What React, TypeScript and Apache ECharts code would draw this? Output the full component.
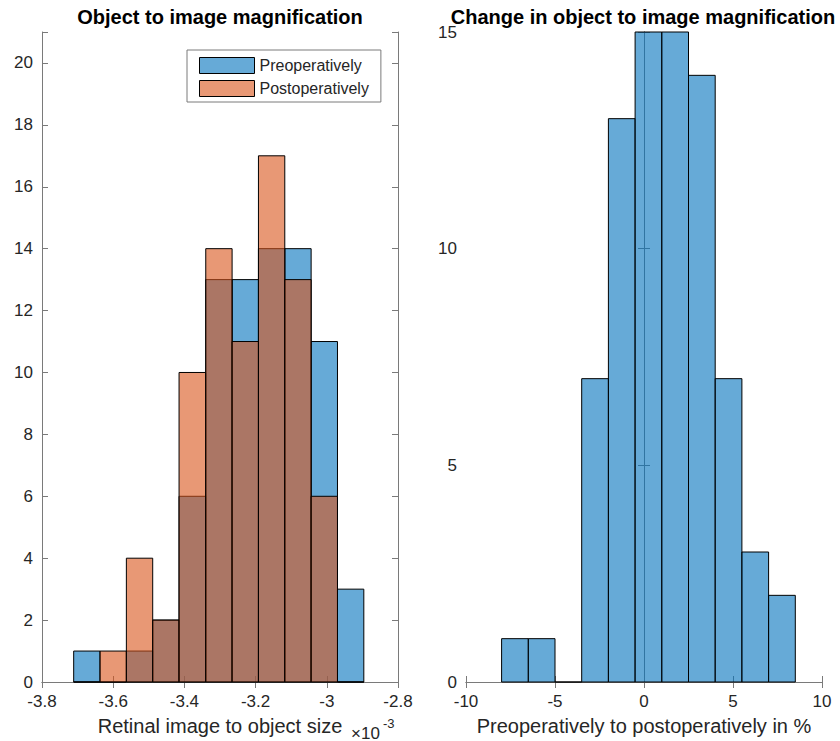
import React, { useEffect, useRef } from "react";
import * as echarts from "echarts";

// Left panel: bin edges (in units of 1e-3) and counts
const leftEdges = [-3.711, -3.637, -3.563, -3.489, -3.415, -3.34, -3.266, -3.192, -3.118, -3.044, -2.97, -2.896];
const preCounts = [1, 0, 1, 2, 6, 13, 13, 14, 14, 11, 3];
const postCounts = [0, 1, 4, 2, 10, 14, 11, 17, 13, 6, 0];

// Right panel: bin edges (%) and counts
const rightEdges = [-8, -6.5, -5, -3.5, -2, -0.5, 1, 2.5, 4, 5.5, 7, 8.5];
const changeCounts = [1, 1, 0, 7, 13, 15, 15, 14, 7, 3, 2];

const leftXTicks = [-3.8, -3.6, -3.4, -3.2, -3.0, -2.8];
const rightXTicks = [-10, -5, 0, 5, 10];

const FONT = "'Liberation Sans', Arial, Helvetica, sans-serif";
const TXT = "#262626";
const AX = "#7a7a7a";
const BLUE = "rgba(0,114,189,0.6)";
const ORANGE = "rgba(217,83,25,0.6)";

function toBins(edges: number[], counts: number[]) {
  return counts.map((c, i) => [edges[i], edges[i + 1], c]);
}

function renderBar(fill: string) {
  return (params: any, api: any) => {
    const x0 = api.value(0);
    const x1 = api.value(1);
    const y = api.value(2);
    const p0 = api.coord([x0, y]);
    const p1 = api.coord([x1, 0]);
    return {
      type: "rect",
      shape: { x: p0[0], y: p0[1], width: p1[0] - p0[0], height: p1[1] - p0[1] },
      style: { fill, stroke: "#000", lineWidth: 1 },
    };
  };
}

function xAxes(grid: number, min: number, max: number, interval: number, name: string) {
  const common = {
    gridIndex: grid,
    type: "value",
    min,
    max,
    interval,
    splitLine: { show: false },
    axisLine: { show: true, lineStyle: { color: AX, width: 1 } },
    axisTick: { show: true, inside: true, length: 6, lineStyle: { color: AX } },
  };
  return [
    {
      ...common,
      position: "bottom",
      axisLabel: {
        show: true,
        margin: 11,
        fontSize: 17,
        fontFamily: FONT,
        color: TXT,
        formatter: (v: number) => String(Math.round(v * 10) / 10),
      },
      name,
      nameLocation: "middle",
      nameGap: 34,
      nameTextStyle: { fontSize: 20, fontFamily: FONT, color: TXT },
    },
    { ...common, position: "top", axisLabel: { show: false } },
  ];
}

function yAxes(grid: number, max: number, interval: number) {
  const common = {
    gridIndex: grid,
    type: "value",
    min: 0,
    max,
    interval,
    splitLine: { show: false },
    axisLine: { show: true, lineStyle: { color: AX, width: 1 } },
    axisTick: { show: true, inside: true, length: 6, lineStyle: { color: AX } },
  };
  return [
    {
      ...common,
      position: "left",
      axisLabel: {
        show: true,
        margin: 9,
        fontSize: 17,
        lineHeight: 10,
        fontFamily: FONT,
        color: TXT,
        formatter: (v: number) => (Math.round(v) % interval === 0 ? String(Math.round(v)) : ""),
      },
    },
    { ...common, position: "right", axisLabel: { show: false } },
  ];
}

export default function App() {
  const ref = useRef<HTMLDivElement>(null);
  useEffect(() => {
    if (!ref.current) return;
    const chart = echarts.init(ref.current, null, { renderer: "svg" });
    const titleStyle = { fontSize: 20, lineHeight: 20, fontWeight: "bold", fontFamily: FONT, color: "#000" };
    const option: any = {
      animation: false,
      backgroundColor: "#fff",
      title: [
        {
          text: "Object to image magnification",
          left: 220,
          top: 7,
          padding: 0,
          textAlign: "center",
          textStyle: titleStyle,
        },
        {
          text: "Change in object to image magnification",
          left: 643,
          top: 7,
          padding: 0,
          textAlign: "center",
          textStyle: titleStyle,
        },
      ],
      legend: {
        left: 187,
        top: 50,
        orient: "vertical",
        itemWidth: 55,
        itemHeight: 16,
        itemGap: 6,
        padding: [7, 12, 5, 12],
        borderColor: AX,
        borderWidth: 1,
        backgroundColor: "#fff",
        selectedMode: false,
        icon: "rect",
        textStyle: { fontSize: 16, fontFamily: FONT, color: TXT },
        data: [
          { name: "Preoperatively", itemStyle: { color: BLUE, borderColor: "#000", borderWidth: 1 } },
          { name: "Postoperatively", itemStyle: { color: ORANGE, borderColor: "#000", borderWidth: 1 } },
        ],
      },
      grid: [
        { left: 42, top: 32, width: 356, height: 652 },
        { left: 466, top: 32, width: 356, height: 652 },
      ],
      xAxis: [
        ...xAxes(0, leftXTicks[0], leftXTicks[leftXTicks.length - 1], 0.2, "Retinal image to object size"),
        ...xAxes(1, rightXTicks[0], rightXTicks[rightXTicks.length - 1], 5, "Preoperatively to postoperatively in %"),
      ],
      yAxis: [...yAxes(0, 21, 2), ...yAxes(1, 15, 5)],
      graphic: [
        {
          type: "text",
          x: 351,
          y: 733,
          style: { text: "×10", fontSize: 17, fontFamily: FONT, fill: TXT, textVerticalAlign: "middle" },
        },
        {
          type: "text",
          x: 383,
          y: 723,
          style: { text: "-3", fontSize: 13, fontFamily: FONT, fill: TXT, textVerticalAlign: "middle" },
        },
      ],
      series: [
        {
          name: "Preoperatively",
          type: "custom",
          xAxisIndex: 0,
          yAxisIndex: 0,
          itemStyle: { color: BLUE, borderColor: "#000" },
          encode: { x: [0, 1], y: 2 },
          renderItem: renderBar(BLUE),
          data: toBins(leftEdges, preCounts),
        },
        {
          name: "Postoperatively",
          type: "custom",
          xAxisIndex: 0,
          yAxisIndex: 0,
          itemStyle: { color: ORANGE, borderColor: "#000" },
          encode: { x: [0, 1], y: 2 },
          renderItem: renderBar(ORANGE),
          data: toBins(leftEdges, postCounts),
        },
        {
          name: "Change",
          type: "custom",
          xAxisIndex: 2,
          yAxisIndex: 2,
          itemStyle: { color: BLUE, borderColor: "#000" },
          encode: { x: [0, 1], y: 2 },
          renderItem: renderBar(BLUE),
          data: toBins(rightEdges, changeCounts),
        },
      ],
    };
    chart.setOption(option);
    return () => chart.dispose();
  }, []);
  return (
    <div
      ref={ref}
      style={{ position: "fixed", left: 0, top: 0, width: 840, height: 741 }}
    />
  );
}
